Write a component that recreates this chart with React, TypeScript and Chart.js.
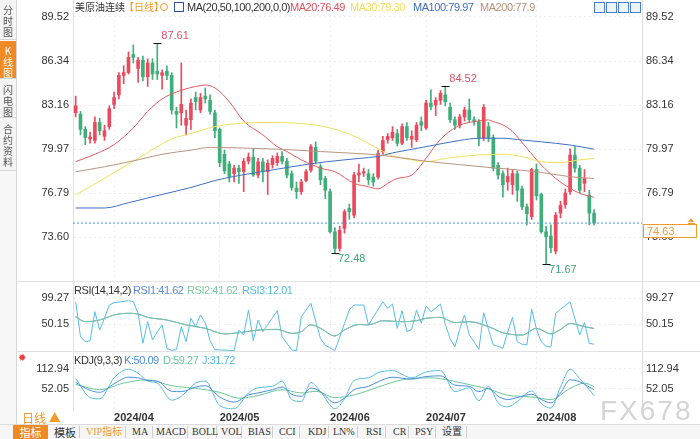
import React, { useEffect, useRef } from 'react';
import { Chart, registerables } from 'chart.js';

Chart.register(...registerables);

// ---------------- data ----------------
const opens = [82.6, 82.5, 81.4, 80.7, 80.6, 81.9, 80.9, 81.6, 83.2, 83.9, 85.3, 85.5, 86.8, 85.8, 86.4, 85.2, 86.2, 85.6, 85.3, 85.6, 85.3, 82.7, 82.6, 81.7, 82.1, 83.7, 82.8, 83.8, 83.5, 82.6, 81.4, 79.6, 78.9, 78.2, 78.6, 78.35, 79.1, 79.4, 78.1, 79.05, 78.35, 78.85, 79.0, 79.45, 79.1, 78.2, 77.15, 76.9, 77.7, 78.45, 80.1, 78.7, 77.85, 76.9, 74.0, 72.8, 74.25, 75.7, 75.2, 78.1, 78.25, 78.2, 77.95, 77.95, 79.8, 80.65, 80.8, 81.1, 80.4, 81.6, 80.7, 80.65, 81.95, 81.5, 83.3, 83.15, 83.5, 83.9, 83.0, 82.1, 81.7, 82.3, 82.8, 82.1, 81.95, 80.8, 81.6, 80.8, 78.8, 78.2, 77.6, 77.4, 78.2, 77.1, 75.8, 75.1, 78.5, 76.7, 74.0, 73.7, 72.6, 75.35, 75.95, 76.9, 79.55, 78.6, 77.5, 76.65, 75.35];
const highs = [83.8, 82.7, 81.6, 81.2, 82.3, 82.2, 81.7, 83.1, 84.1, 85.5, 86.0, 87.0, 87.5, 86.6, 86.7, 86.5, 86.5, 87.61, 85.7, 86.0, 85.5, 83.0, 86.2, 82.8, 83.6, 84.1, 84.0, 84.4, 83.9, 82.8, 81.5, 79.9, 79.1, 78.8, 78.8, 79.3, 79.7, 80.0, 79.3, 79.3, 79.2, 79.5, 79.7, 79.8, 79.3, 78.4, 77.6, 77.8, 78.5, 80.3, 80.5, 78.9, 78.0, 77.1, 74.3, 74.4, 75.6, 76.0, 78.3, 78.9, 78.6, 78.5, 78.2, 79.9, 80.9, 81.1, 81.6, 81.4, 81.8, 81.9, 81.3, 81.9, 82.3, 83.5, 84.25, 83.7, 84.2, 84.52, 83.3, 82.3, 82.5, 83.0, 83.6, 82.3, 82.1, 83.2, 81.9, 81.0, 79.0, 78.4, 78.6, 78.5, 78.4, 77.3, 76.0, 78.6, 78.9, 76.8, 74.4, 74.5, 75.4, 76.2, 77.1, 80.0, 80.15, 78.8, 78.5, 77.0, 75.6];
const lows = [82.3, 81.0, 80.3, 80.4, 80.4, 81.0, 80.6, 81.4, 82.9, 83.6, 84.7, 85.4, 86.2, 84.8, 84.9, 84.5, 85.0, 85.0, 84.3, 85.0, 82.5, 81.5, 81.7, 81.0, 81.4, 82.8, 82.6, 83.3, 82.5, 80.8, 78.7, 78.2, 77.6, 77.6, 77.5, 76.9, 78.9, 78.0, 77.9, 77.6, 76.7, 78.6, 78.8, 78.9, 77.9, 77.0, 76.4, 76.7, 77.6, 78.3, 78.9, 77.4, 76.4, 73.9, 72.48, 72.6, 73.9, 74.9, 75.0, 77.6, 78.0, 77.4, 77.3, 77.8, 79.6, 80.4, 80.6, 80.2, 80.3, 80.6, 80.1, 80.5, 81.3, 81.4, 82.8, 82.4, 83.2, 83.1, 81.9, 81.4, 81.5, 82.0, 81.9, 81.7, 80.2, 80.6, 80.5, 78.4, 77.8, 76.5, 77.0, 76.7, 76.2, 75.6, 74.5, 74.9, 76.3, 73.9, 71.67, 72.5, 72.4, 75.0, 75.7, 76.7, 78.3, 76.8, 76.9, 74.5, 74.5];
const closes = [83.1, 81.4, 80.8, 80.85, 81.9, 81.3, 81.3, 82.9, 83.7, 85.3, 85.5, 86.6, 86.6, 86.4, 85.2, 86.2, 85.4, 85.4, 85.5, 85.3, 82.8, 82.5, 83.2, 82.2, 83.3, 83.4, 83.7, 83.6, 82.7, 81.3, 79.0, 78.4, 78.0, 78.6, 78.35, 79.1, 79.4, 78.1, 79.05, 78.35, 78.95, 79.3, 79.45, 79.1, 78.1, 77.2, 76.9, 77.6, 78.35, 80.15, 79.1, 77.75, 77.0, 74.0, 72.8, 74.1, 75.45, 75.45, 78.1, 78.25, 78.35, 77.75, 77.6, 79.65, 80.6, 80.9, 81.2, 80.4, 81.6, 80.8, 80.9, 81.7, 81.7, 83.3, 83.05, 83.5, 84.0, 83.4, 82.1, 81.7, 82.3, 82.8, 82.1, 81.95, 80.8, 83.0, 80.8, 78.6, 78.1, 77.4, 78.0, 78.2, 77.0, 75.8, 75.3, 78.5, 76.6, 74.0, 73.65, 72.85, 75.2, 75.9, 76.8, 79.55, 78.6, 77.0, 77.85, 75.35, 74.63];

const monthStartIdx = [8, 30, 53, 73, 96];
const monthLabels = ['2024/04', '2024/05', '2024/06', '2024/07', '2024/08'];
const priceTicks = [73.6, 76.79, 79.97, 83.16, 86.34, 89.52];
const rsiTicks = [50.15, 99.27];
const kdjTicks = [52.05, 112.94];
const highMarkIdx = [17, 77];
const lowMarkIdx = [54, 98];

const ma20 = [[0, 79.07], [4, 79.6], [8, 80.3], [12, 81.5], [15, 82.7], [18, 83.6], [21, 84.1], [25, 84.5], [27, 84.6], [29, 84.4], [32, 83.4], [35, 82.0], [39, 81.0], [42, 80.15], [44, 79.8], [47, 79.2], [51, 78.6], [54, 78.34], [58, 77.5], [61, 77.26], [63, 77.1], [65, 77.5], [67, 77.85], [70, 78.1], [73, 79.3], [75, 80.27], [77, 81.0], [80, 81.7], [83, 81.96], [86, 82.08], [87, 81.96], [89, 81.72], [91, 81.24], [94, 80.03], [97, 78.83], [100, 77.86], [103, 77.14], [105, 76.78], [108, 76.49]];
const ma50 = [[0, 76.66], [6, 77.86], [13, 79.3], [20, 80.7], [24, 81.1], [29, 81.6], [33, 81.8], [38, 81.9], [45, 81.86], [51, 81.65], [55, 81.3], [59, 80.75], [63, 80.0], [66, 79.5], [70, 79.2], [73, 79.07], [77, 79.3], [80, 79.43], [84, 79.55], [89, 79.6], [93, 79.43], [97, 79.07], [101, 79.0], [105, 79.2], [108, 79.3]];
const ma100 = [[0, 75.72], [6, 75.72], [11, 76.1], [18, 76.7], [24, 77.2], [29, 77.7], [33, 78.0], [38, 78.3], [45, 78.7], [52, 79.05], [59, 79.3], [63, 79.45], [66, 79.7], [73, 80.15], [80, 80.6], [84, 80.76], [89, 80.76], [93, 80.63], [97, 80.5], [103, 80.27], [108, 79.97]];
const ma200 = [[0, 78.34], [6, 78.7], [13, 79.2], [18, 79.6], [24, 79.9], [28, 80.1], [35, 80.05], [42, 79.97], [51, 79.8], [58, 79.67], [63, 79.55], [66, 79.43], [73, 79.1], [80, 78.85], [87, 78.62], [96, 78.34], [103, 77.98], [108, 77.86]];

const rsi1 = [[0, 64], [2, 54.5], [5, 57.7], [8, 67.2], [11, 70.4], [13, 69], [15, 62.7], [19, 57.7], [23, 48.5], [27, 42], [31, 31.4], [34, 33.6], [38, 38.8], [42, 40], [45, 32.5], [47, 35.7], [49, 48.5], [51, 42], [54, 27.5], [56, 38.8], [59, 49.2], [61, 48.5], [64, 56.4], [68, 54.5], [71, 56.4], [73, 60.9], [76, 62.7], [79, 52.7], [82, 54.5], [86, 45.1], [89, 33.6], [93, 29.3], [96, 42], [99, 31.4], [101, 40], [103, 51.1], [106, 45.1], [108, 41.62]];
const rsi2 = rsi1.map((p) => [p[0], p[1]]);
const rsi3 = [[0, 92.3], [1, 26.2], [2, 16.7], [3, 18.6], [4, 73.4], [5, 38.8], [6, 60.9], [7, 86], [8, 90.4], [11, 94.2], [12, 92.3], [13, 70.4], [14, 13.8], [15, 54.5], [16, 20], [17, 35], [18, 48.5], [19, 4.2], [20, 0], [21, 2], [22, 45.1], [23, 16.7], [24, 60.9], [25, 45], [26, 67.2], [27, 52], [28, 18.6], [29, 1.7], [33, 0], [34, 38.8], [35, 29.3], [36, 76.6], [37, 18.6], [38, 57.7], [39, 35.7], [42, 75.3], [43, 26.2], [45, 1.1], [46, 0], [47, 64], [49, 89.2], [51, 22.4], [52, 10], [54, 0], [56, 51.1], [57, 76.6], [58, 86], [60, 86], [61, 48.5], [64, 92.3], [65, 79.7], [66, 87.8], [67, 42], [68, 75.3], [69, 35.7], [70, 40], [71, 76.6], [72, 51.5], [73, 84.3], [74, 73.4], [75, 80], [76, 87.8], [77, 50], [78, 22.4], [79, 6.6], [80, 40], [81, 67.2], [82, 29.3], [83, 16.7], [84, 2.2], [85, 71.6], [86, 40], [87, 10.5], [88, 8], [89, 4.2], [90, 35], [91, 62.7], [92, 16.7], [93, 12], [94, 10.5], [95, 77.8], [96, 40], [97, 16.7], [98, 8], [99, 6.6], [100, 70.4], [101, 78], [102, 85], [103, 92.3], [104, 60], [105, 29.3], [106, 52.7], [107, 13.6], [108, 12.01]];

const kdjK = [[0, 72], [3, 48], [5, 42], [8, 68], [11, 88], [13, 86], [15, 78], [17, 76], [20, 45], [22, 44], [25, 58], [27, 62], [30, 28], [33, 12], [36, 34], [38, 40], [41, 50], [43, 58], [45, 36], [47, 30], [49, 55], [51, 44], [54, 10], [56, 24], [58, 50], [61, 60], [63, 74], [66, 88], [70, 82], [73, 90], [76, 92], [79, 64], [82, 60], [84, 44], [86, 54], [88, 30], [90, 20], [92, 26], [95, 36], [97, 20], [99, 10], [101, 40], [103, 80], [105, 74], [107, 58], [108, 50.09]];
const kdjD = [[0, 66], [5, 50], [10, 70], [15, 80], [20, 62], [25, 54], [30, 42], [34, 24], [38, 32], [43, 50], [47, 40], [50, 45], [54, 26], [58, 34], [63, 58], [68, 80], [74, 86], [78, 78], [83, 62], [86, 52], [90, 33], [95, 28], [99, 20], [103, 54], [106, 70], [108, 59.27]];
const kdjJ = [[0, 84], [3, 26], [5, 22], [8, 86], [11, 112], [13, 100], [15, 76], [17, 70], [20, 18], [22, 30], [25, 70], [27, 76], [30, 2], [33, -8], [36, 40], [38, 56], [41, 60], [43, 76], [45, 20], [47, 14], [49, 72], [51, 44], [54, -8], [56, 22], [58, 78], [61, 86], [63, 102], [66, 108], [70, 86], [73, 104], [76, 108], [79, 44], [82, 56], [84, 16], [86, 60], [88, 10], [90, -2], [92, 14], [95, 46], [97, 8], [99, -6], [101, 58], [103, 112], [105, 84], [107, 50], [108, 31.72]];

// ---------------- styles ----------------
const FONT = '"Liberation Sans", Arial, "Noto Sans CJK SC", sans-serif';
const CJK = '"Noto Sans CJK SC", "Liberation Sans", sans-serif';
const UP = '#eb4a5e';
const DOWN = '#3fae7a';
const C_MA20 = '#e65a5f';
const C_MA50 = '#f2e05a';
const C_MA100 = '#3e70c0';
const C_MA200 = '#b8957f';
const C_R1 = '#5a8fde';
const C_R2 = '#7ccb9f';
const C_R3 = '#57bde3';
const C_K = '#4a8ee0';
const C_D = '#6cc69a';
const C_J = '#56bde2';
const ORANGE = '#f39a2b';

const X_MIN = -0.56;
const X_MAX = 117.98;
const LEFT_W = 73;
const RIGHT_W = 58;

const pts = (arr: number[][]) => arr.map((p) => ({ x: p[0], y: p[1] }));

function xScaleCfg(showLabels: boolean) {
  return {
    type: 'linear',
    min: X_MIN,
    max: X_MAX,
    offset: false,
    afterBuildTicks: (s: any) => {
      s.ticks = monthStartIdx.map((v) => ({ value: v }));
    },
    afterFit: (s: any) => {
      s.height = showLabels ? 16 : 0;
      s.paddingLeft = 0;
      s.paddingRight = 0;
    },
    grid: { display: true, color: '#efefef', drawTicks: false, offset: false },
    border: { display: false, dash: [2, 3] },
    ticks: {
      display: showLabels,
      autoSkip: false,
      maxRotation: 0,
      minRotation: 0,
      align: 'start',
      padding: 1,
      color: '#333',
      font: { family: FONT, size: 11, weight: 'bold' },
      callback: (v: any) => {
        const k = monthStartIdx.indexOf(Number(v));
        return k >= 0 ? monthLabels[k] : '';
      },
    },
  };
}

function yScaleCfg(position: string, min: number, max: number, ticks: number[], width: number, grid: boolean) {
  return {
    type: 'linear',
    position,
    min,
    max,
    afterBuildTicks: (s: any) => {
      s.ticks = ticks.map((v) => ({ value: v }));
    },
    afterFit: (s: any) => {
      s.width = width;
      s.paddingTop = 0;
      s.paddingBottom = 0;
    },
    grid: { display: grid, color: '#ececec', drawTicks: false },
    border: { display: true, color: '#dedede', dash: [2, 3] },
    ticks: {
      padding: 4,
      color: '#333',
      font: { family: FONT, size: 11 },
      callback: (v: any) => Number(v).toFixed(2),
    },
  };
}

function lineDs(data: number[][], color: string, smooth: boolean, order = 1) {
  return {
    type: 'line',
    data: pts(data),
    borderColor: color,
    backgroundColor: color,
    borderWidth: 1,
    pointRadius: 0,
    fill: false,
    tension: smooth ? 0.35 : 0,
    cubicInterpolationMode: smooth ? 'monotone' : 'default',
    order,
    yAxisID: 'y',
  };
}

const markPlugin = {
  id: 'hlMarks',
  afterDatasetsDraw(chart: any) {
    const { ctx } = chart;
    const x = chart.scales.x;
    const y = chart.scales.y;
    ctx.save();
    ctx.font = '11px ' + FONT;
    ctx.textBaseline = 'middle';
    ctx.textAlign = 'left';
    const drawMark = (px: number, py: number) => {
      ctx.strokeStyle = '#111';
      ctx.lineWidth = 1;
      ctx.beginPath();
      ctx.moveTo(Math.round(px) - 3.5, Math.round(py) + 0.5);
      ctx.lineTo(Math.round(px) + 4.5, Math.round(py) + 0.5);
      ctx.stroke();
    };
    highMarkIdx.forEach((i) => {
      const px = x.getPixelForValue(i);
      const py = y.getPixelForValue(highs[i]);
      drawMark(px, py);
      ctx.fillStyle = '#e2506a';
      ctx.fillText(highs[i].toFixed(2), px + 4, py - 7);
    });
    lowMarkIdx.forEach((i) => {
      const px = x.getPixelForValue(i);
      const py = y.getPixelForValue(lows[i]);
      drawMark(px, py);
      ctx.fillStyle = '#3aa877';
      ctx.fillText(lows[i].toFixed(2), px + 3, py + 6);
    });
    // last price box on the right axis
    const last = closes[closes.length - 1];
    const ly = Math.round(y.getPixelForValue(last));
    const bx = chart.chartArea.right + 1;
    ctx.fillStyle = '#fff';
    ctx.fillRect(bx, ly + 1, 54, 14);
    ctx.strokeStyle = ORANGE;
    ctx.strokeRect(bx + 0.5, ly + 1.5, 53, 13);
    ctx.fillStyle = ORANGE;
    ctx.fillText(last.toFixed(2), bx + 4, ly + 8.5);
    ctx.beginPath();
    ctx.moveTo(bx + 48, ly - 5);
    ctx.lineTo(bx + 51, ly - 1);
    ctx.lineTo(bx + 45, ly - 1);
    ctx.closePath();
    ctx.fill();
    ctx.fillRect(bx + 45, ly, 7, 1);
    ctx.restore();
  },
};

function mainConfig(): any {
  const idx = closes.map((_, i) => i);
  const colors = idx.map((i) => (closes[i] >= opens[i] ? UP : DOWN));
  const last = closes[closes.length - 1];
  return {
    type: 'bar',
    data: {
      datasets: [
        {
          type: 'bar',
          data: idx.map((i) => ({ x: i, y: [lows[i], highs[i]] })),
          backgroundColor: colors,
          barThickness: 1,
          grouped: false,
          order: 4,
          yAxisID: 'y',
        },
        {
          type: 'bar',
          data: idx.map((i) => ({ x: i, y: [opens[i], closes[i]] })),
          backgroundColor: colors,
          barThickness: 3,
          minBarLength: 1,
          grouped: false,
          order: 3,
          yAxisID: 'y',
        },
        lineDs(ma200, C_MA200, true),
        lineDs(ma100, C_MA100, true),
        lineDs(ma50, C_MA50, true),
        lineDs(ma20, C_MA20, true),
        {
          type: 'line',
          data: [{ x: X_MIN, y: last }, { x: X_MAX, y: last }],
          borderColor: '#4a90e2',
          borderWidth: 1,
          borderDash: [2, 2],
          pointRadius: 0,
          order: 0,
          yAxisID: 'y',
        },
      ],
    },
    options: {
      responsive: false,
      animation: false,
      devicePixelRatio: 1,
      layout: { padding: 0 },
      plugins: { legend: { display: false }, tooltip: { enabled: false }, title: { display: false } },
      scales: {
        x: xScaleCfg(false),
        y: yScaleCfg('left', 70.806, 90.748, priceTicks, LEFT_W, true),
        y2: yScaleCfg('right', 70.806, 90.748, priceTicks, RIGHT_W, false),
      },
    },
    plugins: [markPlugin],
  };
}

function subConfig(lines: any[], min: number, max: number, ticks: number[], showX: boolean): any {
  return {
    type: 'line',
    data: { datasets: lines },
    options: {
      responsive: false,
      animation: false,
      devicePixelRatio: 1,
      layout: { padding: 0 },
      plugins: { legend: { display: false }, tooltip: { enabled: false } },
      scales: {
        x: xScaleCfg(showX),
        y: yScaleCfg('left', min, max, ticks, LEFT_W, true),
        y2: yScaleCfg('right', min, max, ticks, RIGHT_W, false),
      },
    },
  };
}

const abs = (x: number, y: number, extra: any = {}): any => ({ position: 'absolute', left: x, top: y, whiteSpace: 'nowrap', ...extra });

function Txt(props: { x: number; y: number; c: string; s?: number; f?: string; ls?: number; children: any }) {
  return (
    <span
      style={abs(props.x, props.y, {
        color: props.c,
        fontSize: props.s || 11,
        lineHeight: '12px',
        fontFamily: props.f || FONT,
        letterSpacing: props.ls === undefined ? -0.45 : props.ls,
      })}
    >
      {props.children}
    </span>
  );
}

const tabs = [
  { t: '分时图', top: 0, h: 41, active: false },
  { t: 'K线图', top: 41, h: 39, active: true },
  { t: '闪电图', top: 80, h: 39, active: false },
  { t: '合约资料', top: 119, h: 53, active: false },
];

const toolbar = [
  { t: 'VIP指标', x: 86, c: ORANGE },
  { t: 'MA', x: 132, c: '#333' },
  { t: 'MACD', x: 156, c: '#333' },
  { t: 'BOLL', x: 192, c: '#333' },
  { t: 'VOL', x: 221, c: '#333' },
  { t: 'BIAS', x: 248, c: '#333' },
  { t: 'CCI', x: 279, c: '#333' },
  { t: 'KDJ', x: 308, c: '#333' },
  { t: 'LN%', x: 333, c: '#333' },
  { t: 'RSI', x: 366, c: '#333' },
  { t: 'CR', x: 393, c: '#333' },
  { t: 'PSY', x: 415, c: '#333' },
  { t: '设置', x: 442, c: '#333' },
];
const toolbarSeps = [79, 125, 152, 187, 216, 241, 272, 299, 328, 357, 385, 408, 435, 466];

export default function App() {
  const mainRef = useRef<HTMLCanvasElement>(null);
  const rsiRef = useRef<HTMLCanvasElement>(null);
  const kdjRef = useRef<HTMLCanvasElement>(null);

  useEffect(() => {
    document.body.style.margin = '0';
    const charts: Chart[] = [];
    charts.push(new Chart(mainRef.current as HTMLCanvasElement, mainConfig()));
    charts.push(
      new Chart(
        rsiRef.current as HTMLCanvasElement,
        subConfig([lineDs(rsi3, C_R3, false, 3), lineDs(rsi1, C_R1, true, 2), lineDs(rsi2, C_R2, true, 1)], -2.75, 140.84, rsiTicks, false)
      )
    );
    charts.push(
      new Chart(
        kdjRef.current as HTMLCanvasElement,
        subConfig([lineDs(kdjJ, C_J, true, 3), lineDs(kdjD, C_D, true, 2), lineDs(kdjK, C_K, true, 1)], -11.88, 164.68, kdjTicks, true)
      )
    );
    return () => charts.forEach((c) => c.destroy());
  }, []);

  return (
    <div style={{ position: 'fixed', left: 0, top: 0, width: 700, height: 439, overflow: 'hidden', background: '#fff', fontFamily: FONT }}>
      <canvas ref={mainRef} width={700} height={276} style={{ position: 'absolute', left: 0, top: 0, display: 'block' }} />
      <canvas ref={rsiRef} width={700} height={76} style={{ position: 'absolute', left: 0, top: 276, display: 'block' }} />
      <canvas ref={kdjRef} width={700} height={74} style={{ position: 'absolute', left: 0, top: 352, display: 'block' }} />

      {/* pane separators */}
      <div style={abs(16, 281, { width: 684, height: 1, background: '#e2e2e2' })} />
      <div style={abs(16, 351, { width: 684, height: 1, background: '#e2e2e2' })} />

      {/* left tab column */}
      <div style={abs(0, 0, { width: 16, height: 424, background: '#f7f7f7', borderRight: '1px solid #d6d6d6' })} />
      {tabs.map((tb) => (
        <div
          key={tb.t}
          style={abs(0, tb.top, {
            width: 16,
            height: tb.h - 1,
            borderBottom: '1px solid #d6d6d6',
            background: tb.active ? '#f08a24' : '#f4f4f4',
            color: tb.active ? '#fff' : '#555',
            fontFamily: CJK,
            fontSize: 10,
            lineHeight: '11px',
            textAlign: 'center',
            paddingTop: 4,
            boxSizing: 'border-box',
          })}
        >
          {tb.t.split('').map((ch, k) => (
            <div key={k}>{ch}</div>
          ))}
        </div>
      ))}
      <span style={abs(18, 352, { color: '#e8423c', fontSize: 10, lineHeight: '12px' })}>✹</span>

      {/* main legend */}
      <Txt x={75} y={1} c="#333" s={10} f={CJK} ls={0}>美原油连续</Txt>
      <Txt x={124} y={1} c={ORANGE} s={10} f={CJK} ls={0}>【日线】</Txt>
      <span style={abs(160, 3, { width: 6, height: 6, border: '1px solid ' + ORANGE, borderRadius: 4 })} />
      <span style={abs(174, 2, { width: 8, height: 8, border: '1px solid #3050a8' })} />
      <Txt x={187} y={1} c="#333">MA(20,50,100,200,0,0)</Txt>
      <Txt x={290} y={1} c="#e0505a">MA20:76.49</Txt>
      <Txt x={350} y={1} c="#f0dc5a">MA30:79.30</Txt>
      <Txt x={413} y={1} c="#3f6fb8">MA100:79.97</Txt>
      <Txt x={480} y={1} c="#b89178">MA200:77.9</Txt>
      {[594, 606, 618, 630].map((x) => (
        <span key={x} style={abs(x, 2, { width: 9, height: 9, border: '1px solid #4a7fd0', background: '#eef4fc' })} />
      ))}

      {/* RSI legend */}
      <Txt x={74} y={284} c="#333">RSI(14,14,2)</Txt>
      <Txt x={133} y={284} c={C_R1}>RSI1:41.62</Txt>
      <Txt x={187} y={284} c={C_R2}>RSI2:41.62</Txt>
      <Txt x={242} y={284} c={C_R3}>RSI3:12.01</Txt>

      {/* KDJ legend */}
      <Txt x={74} y={354} c="#333">KDJ(9,3,3)</Txt>
      <Txt x={124} y={354} c={C_K}>K:50.09</Txt>
      <Txt x={163} y={354} c={C_D}>D:59.27</Txt>
      <Txt x={202} y={354} c={C_J}>J:31.72</Txt>

      {/* bottom left */}
      <Txt x={22} y={412} c={ORANGE} s={12} f={CJK} ls={0}>日线 ▲</Txt>

      {/* toolbar */}
      <div style={abs(0, 424, { width: 700, height: 15, background: '#f6f6f6', borderTop: '1px solid #dcdcdc' })} />
      <span style={abs(13, 425, { width: 35, height: 14, background: '#f08a24', color: '#fff', fontSize: 11, lineHeight: '14px', textAlign: 'center', fontFamily: CJK })}>指标</span>
      <Txt x={54} y={426} c="#333" f={CJK} ls={0}>模板</Txt>
      {toolbarSeps.map((x) => (
        <span key={x} style={abs(x, 426, { width: 1, height: 12, background: '#d0d0d0' })} />
      ))}
      {toolbar.map((it) => (
        <Txt key={it.t} x={it.x} y={426} c={it.c} s={10} ls={0} f={'"Liberation Serif", "Noto Sans CJK SC", serif'}>
          {it.t}
        </Txt>
      ))}

      {/* watermark */}
      <span style={abs(600, 396, { color: '#d4d4d4', fontSize: 28, lineHeight: '30px', letterSpacing: 2, fontFamily: FONT })}>FX678</span>
    </div>
  );
}
